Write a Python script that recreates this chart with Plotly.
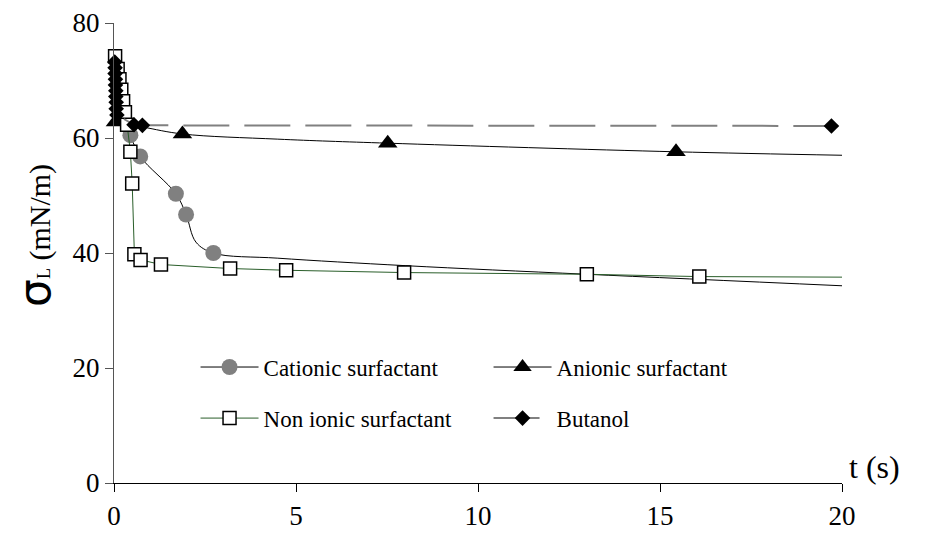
import plotly.graph_objects as go

# ---------------- data ----------------
x_ticks = [0, 5, 10, 15, 20]
y_ticks = [0, 20, 40, 60, 80]

cat_t = [0.45, 0.72, 1.70, 1.98, 2.73]
cat_s = [60.5, 56.8, 50.3, 46.7, 40.0]
cat_curve_t = [2.25, 4.5, 8.0, 13.0, 20.0]
cat_curve_s = [41.9, 39.1, 37.8, 36.3, 34.3]

# Anionic surfactant
ani_t = [0.04, 1.88, 7.52, 15.44]
ani_s = [62.8, 60.7, 59.1, 57.6]
ani_curve_t = [0.8, 4.5, 20.0]
ani_curve_s = [61.9, 59.8, 57.0]

# Non ionic surfactant
non_t = [0.03, 0.10, 0.15, 0.20, 0.25, 0.30, 0.36, 0.45, 0.50, 0.56, 0.73,
         1.29, 3.19, 4.73, 7.97, 12.99, 16.08]
non_s = [74.2, 72.0, 70.2, 68.4, 66.4, 64.5, 62.3, 57.6, 52.1, 39.8, 38.8,
         38.0, 37.3, 37.0, 36.6, 36.3, 35.9]
non_curve_t = [20.0]
non_curve_s = [35.8]

# Butanol
but_t = [0.02, 0.03, 0.03, 0.04, 0.04, 0.05, 0.05, 0.06, 0.06, 0.08,
         0.55, 0.78, 19.71]
but_s = [73.2, 72.2, 71.2, 70.2, 69.2, 68.2, 67.2, 66.2, 65.1, 64.0,
         62.3, 62.2, 62.1]

names = ["Cationic surfactant", "Anionic surfactant",
         "Non ionic surfactant", "Butanol"]

SERIF = "Liberation Serif"
CLEAR = "rgba(0,0,0,0)"


def merge(mt, ms, ct, cs):
    pts = [(t, s, True) for t, s in zip(mt, ms)] + \
          [(t, s, False) for t, s in zip(ct, cs)]
    pts.sort(key=lambda p: p[0])
    return [p[0] for p in pts], [p[1] for p in pts], [p[2] for p in pts]


def series(name, mt, ms, ct, cs, symbol, size, fill, edge, edge_w,
           line_color, line_w, shape, dash, legend):
    x, y, f = merge(mt, ms, ct, cs)
    return go.Scatter(
        x=x, y=y, name=name, mode="lines+markers",
        line=dict(color=line_color, width=line_w, shape=shape, dash=dash),
        marker=dict(symbol=symbol, size=size,
                    color=[fill if k else CLEAR for k in f],
                    line=dict(color=[edge if k else CLEAR for k in f],
                              width=edge_w)),
        cliponaxis=False, legend=legend)


fig = go.Figure()
fig.add_trace(series(names[0], cat_t, cat_s, cat_curve_t, cat_curve_s,
                     "circle", 16, "#808080", "#808080", 0,
                     "#000000", 1, "spline", "solid", "legend"))
fig.add_trace(series(names[1], ani_t, ani_s, ani_curve_t, ani_curve_s,
                     "triangle-up", 17, "#000000", "#000000", 0,
                     "#000000", 1, "spline", "solid", "legend"))
fig.add_trace(series(names[2], non_t, non_s, non_curve_t, non_curve_s,
                     "square", 13, "#ffffff", "#000000", 1.5,
                     "#2a5e2a", 1, "linear", "solid", "legend2"))
fig.add_trace(series(names[3], but_t, but_s, [], [],
                     "diamond", 12, "#000000", "#000000", 0,
                     "#808080", 2, "linear", "46px,15px", "legend2"))

legend_common = dict(orientation="h", xanchor="left", yanchor="middle",
                     x=0.112, entrywidth=220, entrywidthmode="pixels",
                     itemwidth=58, bgcolor="rgba(0,0,0,0)",
                     font=dict(family=SERIF, size=23, color="#000000"))

fig.update_layout(
    width=929, height=541,
    margin=dict(l=114, r=87, t=23, b=58, autoexpand=False),
    paper_bgcolor="#ffffff", plot_bgcolor="#ffffff",
    font=dict(family=SERIF),
    showlegend=True,
    legend=dict(y=0.252, **legend_common),
    legend2=dict(y=0.141, **legend_common),
    xaxis=dict(range=[0, 20], tickvals=x_ticks, showgrid=False,
               zeroline=False, showline=True, linecolor="#000000",
               linewidth=1, ticks="outside", ticklen=8, tickcolor="#000000",
               ticklabelstandoff=1, automargin=False,
               tickfont=dict(family=SERIF, size=27, color="#000000")),
    yaxis=dict(range=[0, 80], tickvals=y_ticks, showgrid=False,
               zeroline=False, showline=True, linecolor="#555555",
               linewidth=1, ticks="outside", ticklen=8, tickcolor="#555555",
               ticklabelstandoff=0, automargin=False,
               tickfont=dict(family=SERIF, size=27, color="#000000")),
    annotations=[
        dict(text="t (s)", xref="paper", yref="paper", x=1.045, y=0.035,
             xanchor="center", yanchor="middle", showarrow=False,
             font=dict(family=SERIF, size=32, color="#000000")),
        dict(text="<span style='font-family:DejaVu Sans;font-size:44px'>σ</span>"
                  "<span style='font-size:18px'>L</span> (mN/m)",
             xref="paper", yref="paper", x=-0.11, y=0.539,
             xanchor="center", yanchor="middle", showarrow=False,
             textangle=-90,
             font=dict(family=SERIF, size=30, color="#000000")),
    ],
)

fig.write_html("out.html", config={"displayModeBar": False},
               post_script="document.body.style.margin='0';")
